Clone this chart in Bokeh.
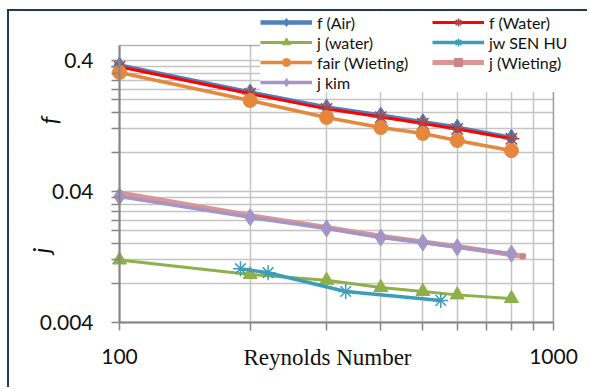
import math
from bokeh.plotting import figure
from bokeh.models import FixedTicker, Label, Legend, BoxAnnotation
from bokeh.embed import file_html
from bokeh.resources import INLINE

# ---- data ----
re_main = [100, 200, 300, 400, 500, 600, 800]
f_air = [0.366, 0.228, 0.175, 0.152, 0.135, 0.123, 0.103]
f_water = [0.358, 0.223, 0.171, 0.148, 0.132, 0.120, 0.101]
fair_wieting = [0.324, 0.198, 0.147, 0.123, 0.111, 0.098, 0.082]
j_water = [0.0120, 0.0093, 0.0084, 0.0074, 0.0069, 0.0065, 0.0061]
j_kim = [0.0366, 0.0254, 0.0209, 0.0178, 0.0163, 0.0150, 0.0134]
re_wieting = [100, 200, 300, 400, 500, 600, 850]
j_wieting = [0.0390, 0.0262, 0.0213, 0.0182, 0.0165, 0.0152, 0.0128]
re_senhu = [190, 220, 332, 550]
jw_senhu = [0.0103, 0.0096, 0.0069, 0.0059]

x_ticks = [100, 1000]
x_tick_labels = ["100", "1000"]
y_ticks = [0.004, 0.04, 0.4]
y_tick_labels = ["0.004", "0.04", "0.4"]

FONT = "Lato"

# ---- layout calibration (page pixels) ----
PX_X100, PX_PER_DEC_X = 119, 434      # x=100 at page x 119, one decade = 434 px
PY_Y004, PX_PER_DEC_Y = 322, 131      # y=0.004 at page y 322, one decade = 131 px
CANVAS_LEFT, CANVAS_TOP = 9, 11       # figure canvas origin in the page
PAGE_W, PAGE_H = 589, 389

def to_x(px):
    return 10 ** (2 + (px - PX_X100) / PX_PER_DEC_X)

def to_y(py):
    return 0.004 * 10 ** ((PY_Y004 - py) / PX_PER_DEC_Y)

X0, X1 = x_ticks[0], x_ticks[-1]
Y0, Y1 = y_ticks[0], to_y(45)          # plot-area limits

p = figure(width=PAGE_W - CANVAS_LEFT, height=PAGE_H - CANVAS_TOP,
           x_axis_type="log", y_axis_type="log",
           x_range=(to_x(CANVAS_LEFT), to_x(PAGE_W)),
           y_range=(to_y(PAGE_H), to_y(CANVAS_TOP)),
           output_backend="svg", toolbar_location=None,
           min_border_left=0, min_border_right=0,
           min_border_top=0, min_border_bottom=0)
p.styles = {"margin-left": "7px", "margin-top": "9px",
            "border-left": "2px solid #1F3864", "border-top": "2px solid #1F3864"}
p.background_fill_color = "white"
p.border_fill_color = "white"
p.outline_line_color = None

x_minor = [x_ticks[0] * k for k in range(2, 10)]
y_minor = [d * k for d in y_ticks[:-1] for k in range(2, 10)]
xt = FixedTicker(ticks=x_ticks, minor_ticks=x_minor)
yt = FixedTicker(ticks=y_ticks, minor_ticks=y_minor)
p.xaxis.ticker = xt
p.yaxis.ticker = yt
p.xgrid.ticker = xt
p.ygrid.ticker = yt
p.xaxis.major_label_overrides = dict(zip(x_ticks, x_tick_labels))
p.yaxis.major_label_overrides = dict(zip(y_ticks, y_tick_labels))
p.xaxis.fixed_location = Y0
p.yaxis.fixed_location = X0
p.xaxis.bounds = (X0, X1)
p.yaxis.bounds = (Y0, Y1)

for g in (p.xgrid, p.ygrid):
    g.grid_line_color = "#C4C4C4"
    g.grid_line_width = 1.5
    g.minor_grid_line_color = "#C4C4C4"
    g.minor_grid_line_width = 1.5

# white covers so the grid only shows inside the plot area
for kw in (dict(right=X0), dict(left=X1), dict(top=Y0), dict(bottom=Y1)):
    p.add_layout(BoxAnnotation(fill_color="white", fill_alpha=1.0, line_color=None,
                               level="underlay", **kw))
# plot-area outline (top and right black edges; left/bottom covered by the axes)
p.add_layout(BoxAnnotation(left=X0, right=X1, bottom=Y0, top=Y1, fill_alpha=0,
                           line_color="black", line_width=1.5, level="underlay"))

for ax in (p.xaxis, p.yaxis):
    ax.axis_line_color = "#868686"
    ax.axis_line_width = 2
    ax.major_tick_line_color = "#868686"
    ax.minor_tick_line_color = "#868686"
    ax.major_tick_line_width = 1.5
    ax.minor_tick_line_width = 1.5
    ax.major_tick_in = 0
    ax.major_tick_out = 8
    ax.minor_tick_in = 0
    ax.minor_tick_out = 8
    ax.major_label_text_font = FONT
    ax.major_label_text_font_size = "21px"
    ax.major_label_text_color = "#111111"
p.xaxis.major_label_standoff = 18
p.yaxis.major_label_standoff = 18

items = []
def add(label, xs, ys, color, lw, marker, mcolor, msize):
    r1 = p.line(xs, ys, line_color=color, line_width=lw)
    kw = dict(marker=marker, size=msize)
    if marker in ("asterisk", "x"):
        kw.update(line_color=mcolor, line_width=1.5)
    else:
        kw.update(fill_color=mcolor, line_color=mcolor)
    r2 = p.scatter(xs, ys, **kw)
    items.append((label, [r1, r2]))

add("f (Air)", re_main, f_air, "#4F81BD", 4.5, "diamond", "#4F81BD", 17)
add("f (Water)", re_main, f_water, "#FF0000", 3, "asterisk", "#B0443F", 16)
add("j (water)", re_main, j_water, "#8DB04A", 3, "triangle", "#8DB04A", 14)
add("jw SEN HU", re_senhu, jw_senhu, "#3C9DBB", 3.5, "asterisk", "#3C9DBB", 15)
add("fair (Wieting)", re_main, fair_wieting, "#E5883D", 3.5, "circle", "#E5883D", 14)
add("j (Wieting)", re_wieting, j_wieting, "#D99694", 5, "square", "#C98684", 5)
add("j kim", re_main, j_kim, "#A495C6", 3.5, "diamond", "#A495C6", 17)

# legend: location = its bottom-left corner, from the frame's bottom-left
legend = Legend(items=items, orientation="horizontal", ncols=2,
                location=(260 - CANVAS_LEFT, PAGE_H - 92), background_fill_color="white",
                background_fill_alpha=1.0, border_line_color=None,
                label_text_font=FONT, label_text_font_size="16px",
                label_text_color="#111111", glyph_width=52, glyph_height=20,
                label_height=20, label_width=115, label_standoff=5, spacing=0,
                padding=0, margin=0)
p.add_layout(legend, "center")

def add_label(text, px, py, font, size, style="normal", angle=0.0):
    p.add_layout(Label(x=to_x(px), y=to_y(py), text=text, angle=angle, text_font=font,
                       text_font_style=style, text_font_size=size,
                       text_align="center", text_baseline="middle",
                       text_color="#111111"))

add_label("f", 48, 120, FONT, "24px", "italic", math.pi / 2)
add_label("j", 40, 250, FONT, "24px", "italic", math.pi / 2)
add_label("Reynolds Number", 327, 357, "Liberation Serif", "23px")

open("out.html", "w").write(file_html(p, INLINE))
